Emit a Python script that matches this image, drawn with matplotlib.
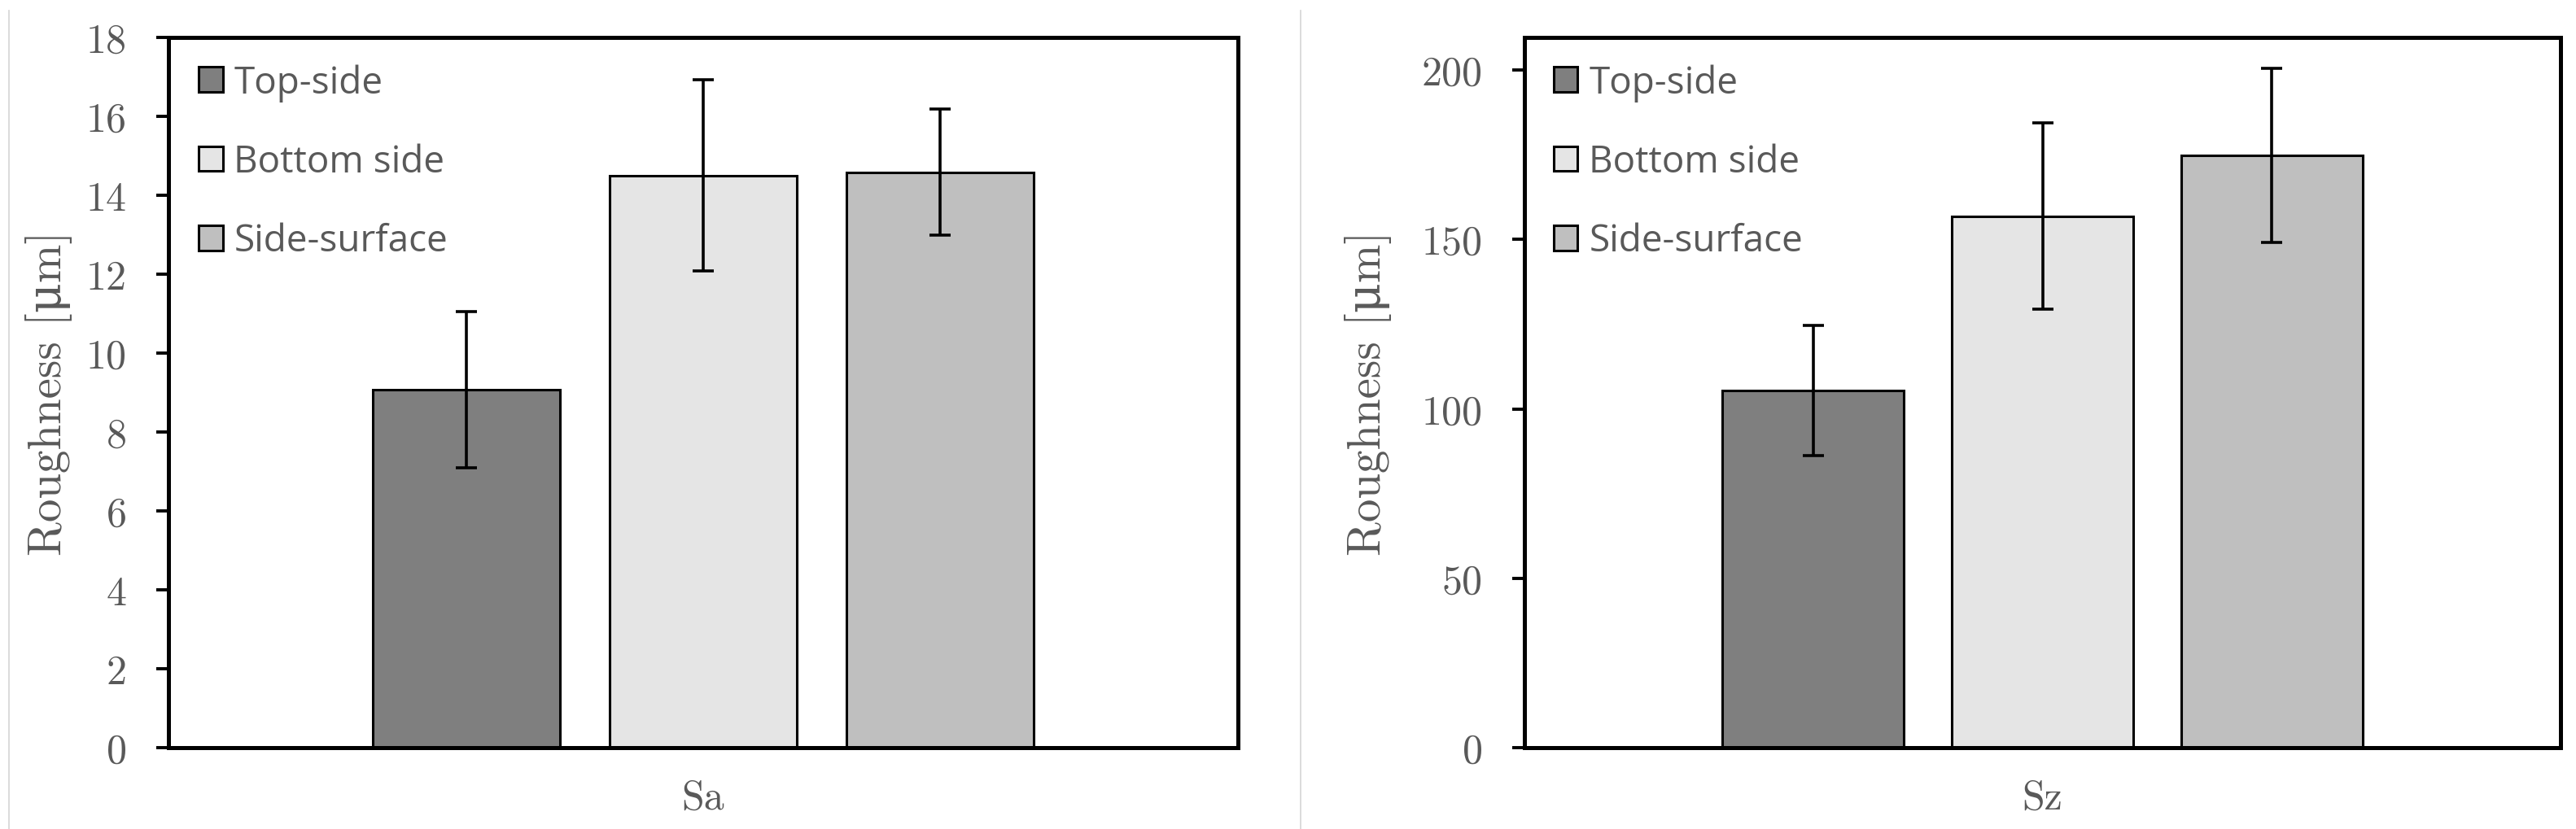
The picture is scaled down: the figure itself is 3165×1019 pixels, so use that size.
import matplotlib.pyplot as plt
from matplotlib.lines import Line2D
import numpy as np

# Dados de rugosidade
series = ["Top-side", "Bottom side", "Side-surface"]
cores = ["#7f7f7f", "#e5e5e5", "#bfbfbf"]

sa_media = [9.07, 14.5, 14.58]
sa_erro = [1.98, 2.42, 1.6]
sz_media = [105.4, 156.9, 174.8]
sz_erro = [19.1, 27.5, 25.8]

sa_ticks = [0, 2, 4, 6, 8, 10, 12, 14, 16, 18]
sz_ticks = [0, 50, 100, 150, 200]

plt.rcParams['axes.formatter.use_mathtext'] = True

fig = plt.figure(figsize=(31.65, 10.2), dpi=100)
ax1 = fig.add_axes([0.0654, 0.098, 0.4152, 0.8559])
ax2 = fig.add_axes([0.5918, 0.098, 0.4022, 0.8559])

# cmr10 nao tem o mu grego, entao cai no DejaVu Serif
serif = ['cmr10', 'DejaVu Serif']
cinza = '#595959'


def desenhar(ax, medias, erros, ticks, ymax, categoria, label_x):
    pos = (np.arange(len(medias)) - 1) * 0.2215
    for i in range(len(medias)):
        ax.bar(pos[i], medias[i], width=0.175, color=cores[i], edgecolor='black',
               linewidth=2.2, label=series[i], zorder=2)
    ax.errorbar(pos, medias, yerr=erros, fmt='none', ecolor='black',
                elinewidth=2.6, capsize=9.5, capthick=2.6, zorder=3)

    ax.set_xlim(-0.5, 0.5)
    ax.set_ylim(0, ymax)
    ax.set_xticks([0])
    ax.set_xticklabels([categoria], family=serif, fontsize=36, color=cinza)
    ax.tick_params(axis='x', length=0, pad=28)
    ax.set_yticks(ticks)
    ax.set_yticklabels([str(t) for t in ticks], family=serif, fontsize=36, color=cinza)
    ax.tick_params(axis='y', direction='out', length=11, width=2.8, pad=26)

    for s in ax.spines.values():
        s.set_linewidth(3.6)
        s.set_color('black')

    ax.set_ylabel('Roughness [\u03bcm]', family=serif, fontsize=41, color=cinza, va='center')
    ax.yaxis.set_label_coords(label_x, 0.5)

    ax.legend(loc='upper left', bbox_to_anchor=(0.028, 0.963), frameon=False,
              prop={'family': 'Open Sans', 'size': 33}, labelcolor=cinza,
              handlelength=0.65, handleheight=0.65, handletextpad=0.3,
              labelspacing=1.12, borderpad=0, borderaxespad=0)


desenhar(ax1, sa_media, sa_erro, sa_ticks, 18, 'Sa', -0.112)
desenhar(ax2, sz_media, sz_erro, sz_ticks, 209.6, 'Sz', -0.151)

# linhas finas que separam os paineis
for x in [11 / 3165, 1598 / 3165]:
    fig.add_artist(Line2D([x, x], [0, 1 - 14 / 1020], color='#d4d4d4', linewidth=1.2))

plt.savefig('out.png', dpi=100)
plt.close()
